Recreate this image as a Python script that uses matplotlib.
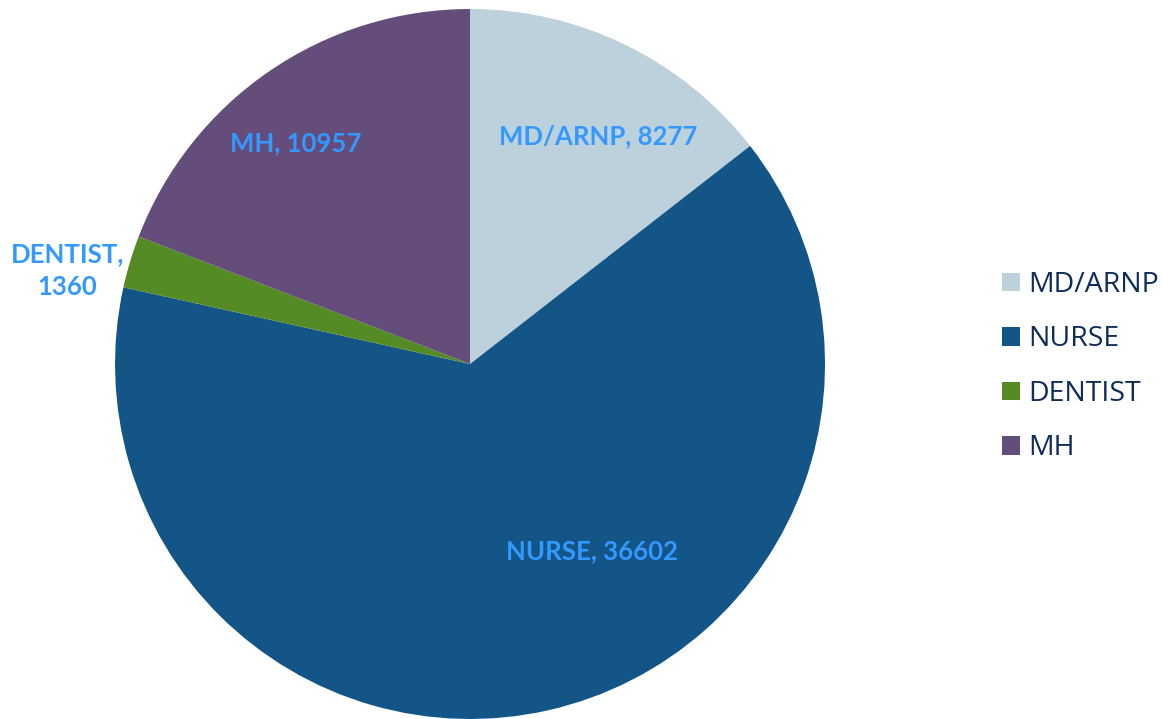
import matplotlib.pyplot as plt

categories = ["MD/ARNP", "NURSE", "DENTIST", "MH"]
values = [8277, 36602, 1360, 10957]
colors = ["#BDD1DC", "#145587", "#558B24", "#644D7A"]
label_texts = ["MD/ARNP, 8277", "NURSE, 36602", "DENTIST,\n1360", "MH, 10957"]
# label anchor positions in pie units (radius = 1)
label_pos = [(0.360, 0.642), (0.344, -0.527), (-1.134, 0.262), (-0.491, 0.623)]

fig = plt.figure(figsize=(11.62, 7.19), dpi=100)
ax = fig.add_axes([0.099, 0.0, 0.611, 0.9875])
wedges, _ = ax.pie(values, colors=colors, startangle=90, counterclock=False,
                   radius=1.0, wedgeprops=dict(linewidth=0))
ax.set_xlim(-1, 1)
ax.set_ylim(-1, 1)
ax.set_aspect("equal")

for txt, (x, y) in zip(label_texts, label_pos):
    ax.text(x, y, txt, ha="center", va="center", color="#3399FF",
            fontsize=18.5, fontweight="bold", family="Lato", linespacing=1.45)

leg = fig.legend(wedges, categories, loc="center left",
                 bbox_to_anchor=(0.84, 0.49), frameon=False,
                 prop=dict(family="Open Sans", size=20.5),
                 handlelength=0.63, handleheight=0.63, handletextpad=0.3,
                 labelspacing=0.93)
for t in leg.get_texts():
    t.set_color("#0E2D5A")

fig.savefig("out.png", dpi=100)
